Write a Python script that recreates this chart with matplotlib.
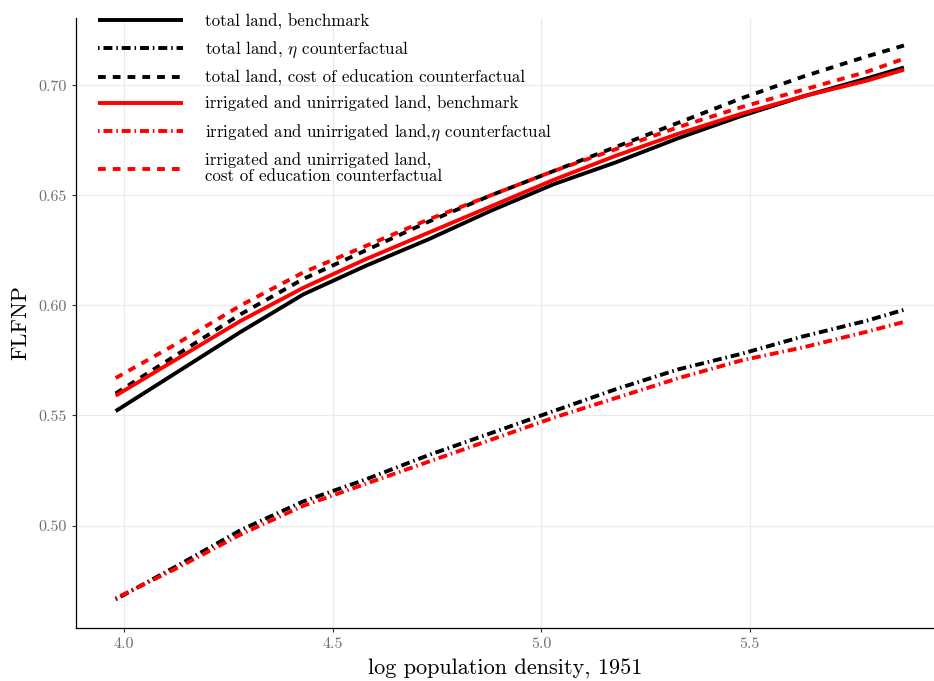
import matplotlib
matplotlib.use("Agg")
import matplotlib.pyplot as plt
import numpy as np

plt.rcParams['font.family'] = 'cmr10'
plt.rcParams['mathtext.fontset'] = 'cm'
plt.rcParams['axes.formatter.use_mathtext'] = True

# log population density, 1951
logdens = np.array([3.98, 4.13, 4.28, 4.43, 4.58, 4.73, 4.88, 5.03, 5.18, 5.33, 5.48, 5.63, 5.78, 5.87])

# FLFNP series
total_bench = [0.552, 0.570, 0.588, 0.605, 0.618, 0.630, 0.643, 0.655, 0.665, 0.676, 0.686, 0.695, 0.703, 0.708]
total_eta = [0.4665, 0.482, 0.498, 0.511, 0.521, 0.532, 0.542, 0.552, 0.562, 0.571, 0.578, 0.586, 0.593, 0.598]
total_cost = [0.560, 0.578, 0.596, 0.612, 0.625, 0.638, 0.650, 0.661, 0.672, 0.683, 0.694, 0.704, 0.713, 0.718]
irr_bench = [0.559, 0.576, 0.593, 0.608, 0.621, 0.633, 0.645, 0.657, 0.668, 0.678, 0.687, 0.695, 0.702, 0.707]
irr_eta = [0.467, 0.481, 0.496, 0.509, 0.519, 0.529, 0.539, 0.549, 0.558, 0.567, 0.575, 0.581, 0.588, 0.5925]
irr_cost = [0.567, 0.583, 0.600, 0.615, 0.627, 0.639, 0.650, 0.661, 0.671, 0.681, 0.690, 0.698, 0.706, 0.712]

labels = [
    "total land, benchmark",
    r"total land, $\eta$ counterfactual",
    "total land, cost of education counterfactual",
    "irrigated and unirrigated land, benchmark",
    r"irrigated and unirrigated land,$\eta$ counterfactual",
    "irrigated and unirrigated land,\ncost of education counterfactual",
]

lw = 2.8
dashed = (2.0, 1.8)
dotdash = (0.4, 1.0, 2.3, 1.0)

fig = plt.figure(figsize=(9.34, 6.81), dpi=100)
ax = fig.add_axes([0.0814, 0.0778, 0.9186, 0.8958])

series = [
    (total_bench, 'black', None),
    (total_eta, 'black', dotdash),
    (total_cost, 'black', dashed),
    (irr_bench, 'red', None),
    (irr_eta, 'red', dotdash),
    (irr_cost, 'red', dashed),
]
handles = []
for (y, c, d), lab in zip(series, labels):
    ln, = ax.plot(logdens, y, color=c, lw=lw, label=lab, solid_capstyle='butt')
    if d is not None:
        ln.set_dashes(d)
    handles.append(ln)

ax.set_xlim(3.885, 5.942)
ax.set_ylim(0.4535, 0.7305)
ax.set_xticks([4.0, 4.5, 5.0, 5.5])
ax.set_yticks([0.50, 0.55, 0.60, 0.65, 0.70])
ax.set_xticklabels(["4.0", "4.5", "5.0", "5.5"])
ax.set_yticklabels(["0.50", "0.55", "0.60", "0.65", "0.70"])
ax.grid(True, color='#ebebeb', lw=0.9)
ax.set_axisbelow(True)
for s in ['top', 'right']:
    ax.spines[s].set_visible(False)
for s in ['left', 'bottom']:
    ax.spines[s].set_linewidth(0.9)
ax.tick_params(length=3, width=0.8, color='#333333', labelcolor='#707070', labelsize=11.5)

ax.set_xlabel("log population density, 1951", fontsize=16, labelpad=6)
ax.set_ylabel("FLFNP", fontsize=16, labelpad=6)

leg = ax.legend(handles=handles, loc='upper left', bbox_to_anchor=(0.1014, 0.985),
                bbox_transform=fig.transFigure, frameon=False, fontsize=12.2,
                handlelength=5.0, handletextpad=1.3, labelspacing=0.58,
                borderaxespad=0, borderpad=0.2)
for t in leg.get_texts():
    t.set_linespacing(1.0)

fig.savefig("out.png", dpi=100)
